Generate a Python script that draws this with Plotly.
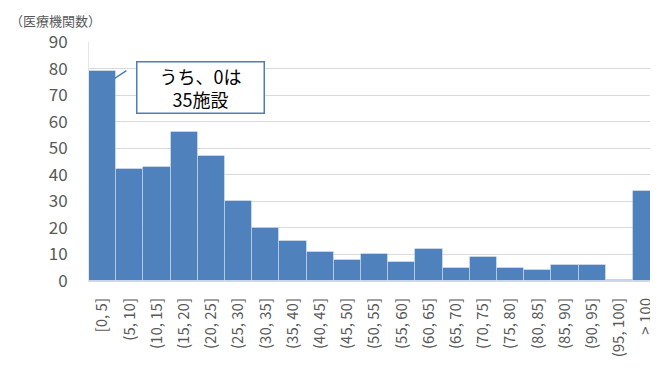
import plotly.graph_objects as go

categories = ["[0, 5]", "(5, 10]", "(10, 15]", "(15, 20]", "(20, 25]", "(25, 30]",
              "(30, 35]", "(35, 40]", "(40, 45]", "(45, 50]", "(50, 55]", "(55, 60]",
              "(60, 65]", "(65, 70]", "(70, 75]", "(75, 80]", "(80, 85]", "(85, 90]",
              "(90, 95]", "(95, 100]", "> 100"]
counts = [79, 42, 43, 56, 47, 30, 20, 15, 11, 8, 10, 7, 12, 5, 9, 5, 4, 6, 6, 0.4, 34]
y_ticks = [0, 10, 20, 30, 40, 50, 60, 70, 80, 90]
y_title = "（医療機関数）"
callout_text = "うち、0は<br>35施設"

FONT = "Noto Sans CJK JP"
GRAY = "#595959"

fig = go.Figure()
fig.add_trace(go.Bar(
    x=list(range(len(categories))),
    y=counts,
    width=1.0,
    marker=dict(color="#4F81BD", line=dict(color="rgba(255,255,255,0.35)", width=1)),
    hoverinfo="skip",
))

fig.update_layout(
    width=650, height=356,
    margin=dict(l=81, r=0, t=34, b=83, autoexpand=False),
    paper_bgcolor="white", plot_bgcolor="white",
    showlegend=False,
    bargap=0,
    font=dict(family=FONT, color=GRAY),
)

fig.update_xaxes(
    range=[-0.5, 20.42],
    tickmode="array",
    tickvals=list(range(len(categories))),
    ticktext=categories,
    tickangle=-90,
    tickfont=dict(family=FONT, size=15, color=GRAY),
    ticklabelstandoff=10,
    showgrid=False,
    showline=True, linecolor="#D9D9D9", linewidth=1,
    ticks="",
    zeroline=False,
    automargin=False,
)
fig.update_yaxes(
    range=[0, 90],
    tickmode="array",
    tickvals=y_ticks,
    tickfont=dict(family=FONT, size=17, color=GRAY),
    ticklabelstandoff=17,
    showgrid=True, gridcolor="#D9D9D9", gridwidth=1,
    showline=True, linecolor="#E6E6E6", linewidth=1,
    zeroline=False,
    ticks="",
    automargin=False,
)

fig.add_annotation(
    xref="paper", yref="paper",
    x=-0.143, y=1.092, xanchor="left", yanchor="middle",
    text=y_title, showarrow=False,
    font=dict(family=FONT, size=13, color=GRAY),
)

# callout leader line
fig.add_shape(type="line", xref="x", yref="y",
              x0=0.445, y0=76.3, x1=0.875, y1=79.2,
              line=dict(color="#4A7EBB", width=1.5))

fig.add_annotation(
    xref="x", yref="y", x=3.61, y=73.0,
    text=callout_text, showarrow=False,
    font=dict(family=FONT, size=18, color="black"),
    bgcolor="white", bordercolor="#4A7EBB", borderwidth=1.5, borderpad=0,
    width=126, height=50, align="center",
)

fig.write_html("out.html")
